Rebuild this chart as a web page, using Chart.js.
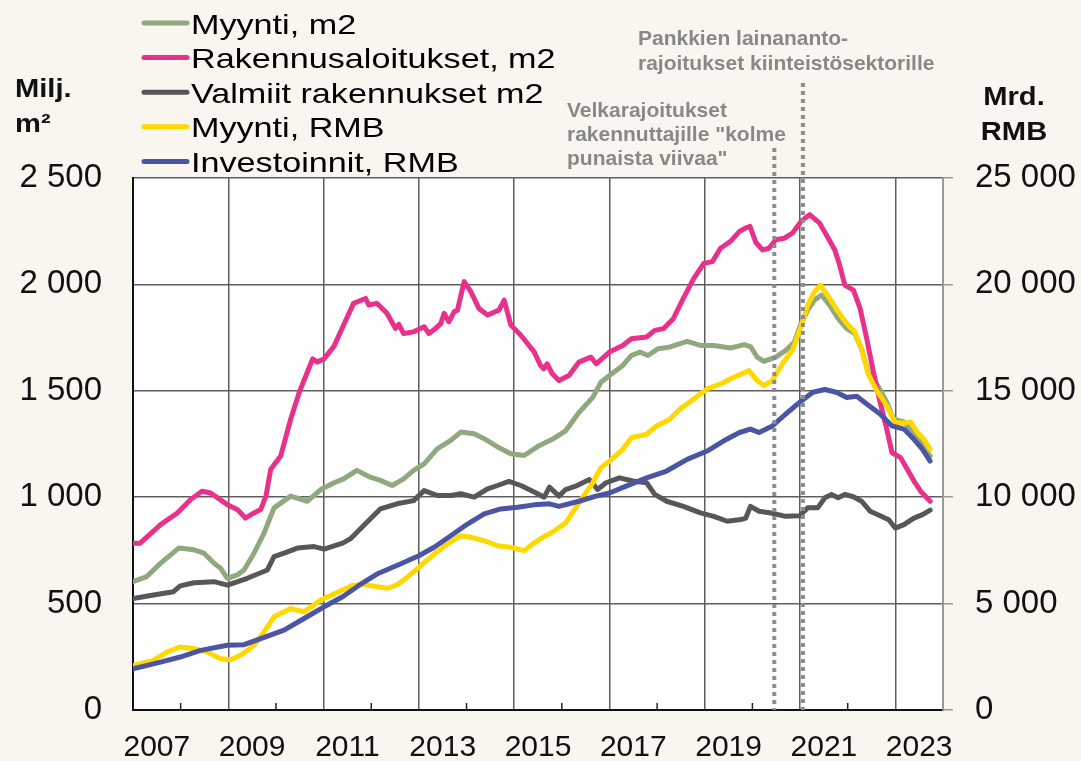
<!DOCTYPE html>
<html><head><meta charset="utf-8">
<script src="https://cdn.jsdelivr.net/npm/chart.js@4.4.0/dist/chart.umd.min.js"></script>
<style>html,body{margin:0;padding:0;background:#F9F5EF;}canvas{display:block}</style>
</head><body>
<canvas id="c" width="1081" height="761"></canvas>
<script>
const FONT = '"Liberation Sans", Arial, sans-serif';

// ---- Series (x = decimal year, y = value) ----
const salesM2Years = [2007.0,2007.29,2007.58,2007.96,2008.28,2008.49,2008.70,2008.84,2008.98,2009.19,2009.33,2009.54,2009.75,2009.96,2010.31,2010.66,2010.94,2011.22,2011.42,2011.70,2011.98,2012.19,2012.44,2012.68,2012.89,2013.11,2013.39,2013.67,2013.88,2014.16,2014.37,2014.65,2014.93,2015.21,2015.49,2015.80,2016.08,2016.36,2016.65,2016.82,2017.0,2017.28,2017.46,2017.64,2017.81,2018.02,2018.27,2018.63,2018.91,2019.19,2019.54,2019.83,2019.97,2020.10,2020.24,2020.49,2020.70,2020.88,2021.02,2021.16,2021.30,2021.45,2021.62,2021.80,2021.98,2022.15,2022.29,2022.43,2022.61,2022.82,2022.96,2023.18,2023.39,2023.57,2023.73];
const salesM2 = [603,627,690,761,753,737,690,666,619,635,658,737,831,950,1005,981,1036,1068,1086,1126,1094,1079,1055,1086,1126,1157,1228,1267,1306,1298,1275,1236,1204,1196,1238,1272,1312,1398,1469,1540,1572,1619,1666,1682,1666,1698,1706,1732,1713,1713,1701,1717,1706,1658,1638,1658,1690,1729,1816,1879,1926,1950,1902,1839,1792,1769,1698,1587,1532,1446,1367,1354,1304,1241,1194];

const startsYears = [2007.0,2007.15,2007.58,2007.93,2008.21,2008.45,2008.63,2008.98,2009.19,2009.36,2009.54,2009.68,2009.79,2009.89,2010.10,2010.31,2010.49,2010.77,2010.87,2011.01,2011.22,2011.42,2011.63,2011.88,2011.95,2012.12,2012.33,2012.51,2012.58,2012.68,2012.89,2013.11,2013.21,2013.35,2013.46,2013.53,2013.63,2013.74,2013.81,2013.95,2014.09,2014.26,2014.44,2014.68,2014.79,2014.93,2015.14,2015.42,2015.55,2015.62,2015.69,2015.80,2015.94,2016.15,2016.36,2016.61,2016.72,2017.00,2017.28,2017.46,2017.78,2017.95,2018.13,2018.34,2018.55,2018.77,2018.98,2019.16,2019.33,2019.54,2019.73,2019.86,2019.95,2020.07,2020.21,2020.35,2020.49,2020.67,2020.84,2021.02,2021.20,2021.41,2021.55,2021.73,2021.83,2021.94,2022.12,2022.26,2022.40,2022.54,2022.68,2022.82,2022.93,2023.11,2023.25,2023.39,2023.53,2023.73];
const startsM2 = [784,784,871,926,989,1028,1020,965,942,902,926,942,1005,1131,1194,1367,1493,1650,1635,1650,1710,1809,1911,1934,1903,1911,1864,1793,1812,1769,1777,1801,1769,1793,1816,1864,1824,1871,1879,2013,1966,1887,1856,1879,1926,1809,1761,1683,1620,1603,1627,1580,1548,1572,1635,1658,1627,1682,1713,1745,1753,1784,1792,1839,1934,2028,2099,2107,2170,2202,2249,2265,2273,2198,2162,2170,2210,2217,2241,2296,2328,2288,2233,2162,2091,1997,1973,1887,1745,1587,1446,1320,1209,1186,1131,1076,1028,981];

const completedYears = [2007.0,2007.43,2007.85,2007.99,2008.28,2008.70,2008.98,2009.40,2009.82,2009.96,2010.17,2010.45,2010.80,2011.01,2011.40,2011.56,2011.91,2012.19,2012.54,2012.89,2013.11,2013.39,2013.67,2013.88,2014.16,2014.44,2014.65,2014.89,2015.14,2015.42,2015.63,2015.74,2015.94,2016.08,2016.29,2016.58,2016.75,2016.93,2017.21,2017.49,2017.78,2017.95,2018.20,2018.55,2018.91,2019.19,2019.47,2019.76,2019.86,2019.96,2020.14,2020.39,2020.70,2020.99,2021.16,2021.37,2021.52,2021.66,2021.80,2021.94,2022.12,2022.29,2022.47,2022.68,2022.86,2023.0,2023.18,2023.39,2023.57,2023.73];
const completedM2 = [524,540,556,583,598,603,587,619,658,721,737,761,768,756,784,804,882,945,969,984,1031,1008,1008,1016,1000,1039,1055,1074,1055,1024,1000,1047,1005,1036,1052,1083,1036,1068,1091,1076,1068,1013,981,957,926,910,887,895,902,957,934,926,910,913,950,950,997,1013,997,1013,1002,981,934,913,894,855,871,902,918,939];

const salesRmbYears = [2007.0,2007.43,2007.71,2007.99,2008.28,2008.56,2008.84,2009.05,2009.26,2009.54,2009.75,2009.96,2010.31,2010.59,2010.94,2011.40,2011.6,2011.85,2012.1,2012.35,2012.55,2012.75,2013.04,2013.32,2013.60,2013.88,2014.09,2014.37,2014.65,2014.93,2015.21,2015.42,2015.63,2015.80,2016.08,2016.36,2016.65,2016.82,2017.0,2017.28,2017.46,2017.78,2017.99,2018.27,2018.48,2018.77,2019.05,2019.33,2019.61,2019.93,2020.10,2020.24,2020.42,2020.63,2020.84,2021.02,2021.16,2021.30,2021.43,2021.62,2021.80,2021.98,2022.15,2022.29,2022.43,2022.61,2022.82,2023.0,2023.18,2023.32,2023.46,2023.60,2023.73];
const salesRmb = [2090,2330,2720,2960,2880,2720,2410,2360,2570,3040,3670,4380,4770,4610,5170,5640,5850,5900,5800,5720,5900,6230,6780,7330,7800,8190,8120,7960,7720,7650,7490,7850,8150,8350,8790,9730,10680,11390,11700,12250,12800,12960,13350,13670,14140,14610,15090,15320,15640,15950,15480,15250,15480,16270,16900,18000,19020,19650,19970,19340,18710,18160,17760,16980,15800,15010,14300,13510,13480,13540,13040,12720,12250];

const investYears = [2007.0,2007.58,2007.99,2008.42,2008.98,2009.33,2009.68,2010.17,2010.59,2011.01,2011.40,2011.77,2012.12,2012.61,2013.0,2013.32,2013.67,2014.02,2014.37,2014.72,2015.07,2015.42,2015.74,2015.94,2016.36,2016.72,2017.0,2017.35,2017.78,2018.20,2018.63,2019.05,2019.40,2019.73,2019.96,2020.14,2020.42,2020.70,2020.99,2021.27,2021.52,2021.76,2021.98,2022.19,2022.40,2022.68,2022.93,2023.18,2023.39,2023.57,2023.73];
const investRmb = [1940,2250,2490,2800,3040,3070,3350,3750,4300,4850,5320,5900,6390,6860,7250,7650,8190,8740,9220,9450,9530,9640,9690,9570,9810,10050,10200,10520,10910,11230,11780,12170,12650,13040,13200,13040,13350,13910,14460,14930,15060,14930,14690,14740,14380,13910,13350,13200,12720,12250,11700];

// ---- Labels / ticks ----
const seriesLabels = ['Myynti, m2','Rakennusaloitukset, m2','Valmiit rakennukset m2','Myynti, RMB','Investoinnit, RMB'];
const yearLabels = ['2007','2009','2011','2013','2015','2017','2019','2021','2023'];
const gridYears = [2009,2011,2013,2015,2017,2019,2021,2023];
const minorYears = [2008,2010,2012,2014,2016,2018,2020,2022];
const leftTicks = [0,500,1000,1500,2000,2500];
const rightTicks = [0,5000,10000,15000,20000,25000];
const policyYears = [2020.46, 2021.06];
const policyTexts = [
  ['Velkarajoitukset','rakennuttajille "kolme','punaista viivaa"'],
  ['Pankkien lainananto-','rajoitukset kiinteistösektorille']
];

const COLORS = ['#8FA87E','#E8318A','#575757','#FFD800','#4B55A3'];
const ORDER = [5,3,4,2,1];
const GRID = '#5e5e5e';

function pairs(xs, ys){ return xs.map((x,i)=>({x:x, y:ys[i]})); }
function fmt(v){ return String(v).replace(/\B(?=(\d{3})+(?!\d))/g,' '); }

const seriesData = [
  pairs(salesM2Years, salesM2),
  pairs(startsYears, startsM2),
  pairs(completedYears, completedM2),
  pairs(salesRmbYears, salesRmb),
  pairs(investYears, investRmb)
];
const axisIds = ['y','y','y','y1','y1'];

const datasets = seriesLabels.map((lab,i)=>({
  label: lab,
  data: seriesData[i],
  yAxisID: axisIds[i],
  borderColor: COLORS[i],
  backgroundColor: COLORS[i],
  borderWidth: 5,
  pointRadius: 0,
  tension: 0,
  borderJoinStyle: 'round',
  borderCapStyle: 'round',
  order: ORDER[i],
  fill: false
}));

const decor = {
  id: 'decor',
  beforeDraw(chart){
    const ctx = chart.ctx, ca = chart.chartArea;
    ctx.save();
    ctx.fillStyle = '#F9F5EF';
    ctx.fillRect(0,0,chart.width,chart.height);
    ctx.fillStyle = '#FFFFFF';
    ctx.fillRect(ca.left, ca.top, ca.right-ca.left, ca.bottom-ca.top);
    ctx.restore();
  },
  afterDraw(chart){
    const ctx = chart.ctx, ca = chart.chartArea, xs = chart.scales.x;
    ctx.save();
    // minor inward ticks
    ctx.strokeStyle = '#222'; ctx.lineWidth = 1.5;
    minorYears.forEach(yr=>{
      const px = xs.getPixelForValue(yr);
      ctx.beginPath(); ctx.moveTo(px, ca.bottom); ctx.lineTo(px, ca.bottom-7); ctx.stroke();
    });
    // policy dotted lines
    const tops = [ca.top-30, ca.top-95];
    ctx.strokeStyle = '#8C8C8C'; ctx.lineWidth = 4; ctx.setLineDash([4,4]); ctx.lineCap='butt';
    policyYears.forEach((yr,i)=>{
      const px = xs.getPixelForValue(yr);
      ctx.beginPath(); ctx.moveTo(px, tops[i]); ctx.lineTo(px, ca.bottom); ctx.stroke();
    });
    ctx.setLineDash([]);
    // policy texts
    ctx.fillStyle = '#888888';
    ctx.font = 'bold 21px ' + FONT;
    ctx.textAlign = 'left'; ctx.textBaseline = 'alphabetic';
    policyTexts[0].forEach((t,j)=>ctx.fillText(t, 567, 116.5 + j*24));
    policyTexts[1].forEach((t,j)=>ctx.fillText(t, 638, 45 + j*25));
    // axis titles
    ctx.fillStyle = '#111';
    ctx.font = 'bold 26px ' + FONT;
    const drawScaled = (t, x, y, sx, align) => {
      ctx.save(); ctx.translate(x,y); ctx.scale(sx,1); ctx.textAlign = align; ctx.fillText(t,0,0); ctx.restore();
    };
    drawScaled('Milj.', 15, 97, 1.12, 'left');
    drawScaled('m²', 15, 132, 1.12, 'left');
    drawScaled('Mrd.', 1014, 105, 1.12, 'center');
    drawScaled('RMB', 1014, 140, 1.12, 'center');
    // legend
    ctx.font = '28px ' + FONT;
    chart.data.datasets.forEach((ds,i)=>{
      const yy = 23 + i*34.6;
      ctx.strokeStyle = ds.borderColor; ctx.lineWidth = 5; ctx.lineCap = 'round';
      ctx.beginPath(); ctx.moveTo(144, yy); ctx.lineTo(187, yy); ctx.stroke();
      ctx.fillStyle = '#000';
      drawScaled(ds.label, 191, yy + 10.5, 1.22, 'left');
    });
    ctx.restore();
  }
};

new Chart(document.getElementById('c'), {
  type: 'line',
  data: { datasets: datasets },
  options: {
    responsive: false,
    devicePixelRatio: 1,
    animation: false,
    layout: { padding: { top: 178, left: 0, right: 0, bottom: 0 } },
    plugins: { legend: { display: false }, tooltip: { enabled: false } },
    scales: {
      x: {
        type: 'linear', position: 'bottom', min: 2007, max: 2024,
        afterBuildTicks: s => {
          s.ticks = gridYears.concat(yearLabels.map(l => +l + 0.5)).sort((a,b)=>a-b).map(v=>({value:v}));
        },
        afterFit: s => { s.height = 51; },
        grid: {
          color: c => (c.tick && Number.isInteger(c.tick.value)) ? GRID : 'rgba(0,0,0,0)',
          lineWidth: 1.5, drawTicks: false
        },
        border: { display: true, color: '#111', width: 2 },
        ticks: {
          autoSkip: false, maxRotation: 0, minRotation: 0, padding: 20, color: '#111',
          font: { family: FONT, size: 30 },
          callback: v => Number.isInteger(v) ? '' : String(Math.floor(v))
        }
      },
      y: {
        position: 'left', min: 0, max: 2500,
        afterBuildTicks: s => { s.ticks = leftTicks.map(v=>({value:v})); },
        afterFit: s => { s.width = 133; },
        grid: { color: GRID, lineWidth: 1.5, drawTicks: false },
        border: { display: true, color: '#111', width: 2 },
        ticks: { padding: 31, color: '#111', font: { family: FONT, size: 33 }, callback: v => fmt(v) }
      },
      y1: {
        position: 'right', min: 0, max: 25000,
        afterBuildTicks: s => { s.ticks = rightTicks.map(v=>({value:v})); },
        afterFit: s => { s.width = 138; },
        grid: { drawOnChartArea: false, drawTicks: true, tickLength: 10, color: '#999', lineWidth: 1.5 },
        border: { display: true, color: '#999', width: 2 },
        ticks: { padding: 22, color: '#111', font: { family: FONT, size: 33 }, callback: v => fmt(v) }
      }
    }
  },
  plugins: [decor]
});
</script>
</body></html>
